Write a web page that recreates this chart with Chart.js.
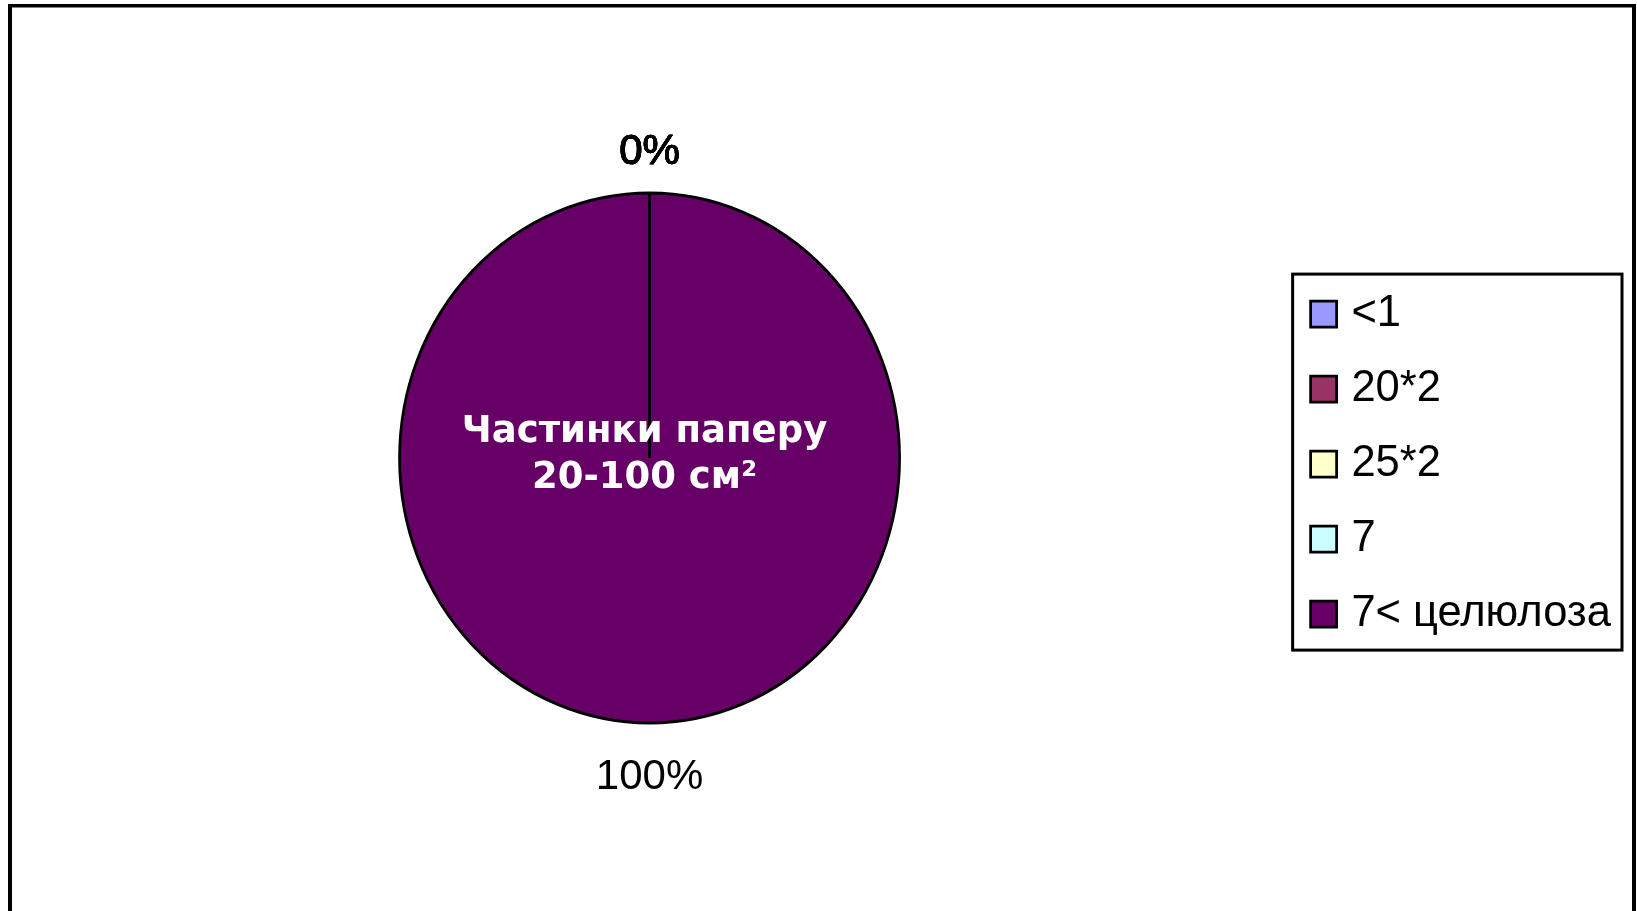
<!DOCTYPE html>
<html>
<head>
<meta charset="utf-8">
<script src="https://cdn.jsdelivr.net/npm/chart.js@4"></script>
<style>
  body { margin: 0; background: #fff; }
  .wrap { position: relative; width: 1637px; height: 911px; }
</style>
</head>
<body>
<div class="wrap"><canvas id="myChart"></canvas></div>
<script>
// chart data
const categories = ["<1", "20*2", "25*2", "7", "7< целюлоза"];
const shares = [0, 0, 0, 0, 100];
const sliceColors = ["#9999FF", "#993366", "#FFFFCC", "#CCFFFF", "#660066"];
const centerLines = ["Частинки паперу", "20-100 см²"];

const stretchY = 1.06; // the pie in the picture is a bit taller than wide
const legendFont = 43.5;
let ctx = document.getElementById("myChart");

// outer frame (left, top, right only)
const framePlugin = {
  id: "frame",
  beforeDraw(chart) {
    const c = chart.ctx;
    c.save();
    c.fillStyle = "#000";
    c.fillRect(8, 4, 4, 911);
    c.fillRect(8, 4, 1628, 3.5);
    c.fillRect(1632, 4, 4, 911);
    c.restore();
  },
};

// squeeze the circle into an ellipse
const ellipsePlugin = {
  id: "ellipse",
  beforeDatasetsDraw(chart) {
    const arc = chart.getDatasetMeta(0).data[0];
    const c = chart.ctx;
    c.save();
    c.translate(arc.x, arc.y);
    c.scale(1, stretchY);
    c.translate(-arc.x, -arc.y);
  },
  afterDatasetsDraw(chart) {
    chart.ctx.restore();
  },
};

// percent labels outside, title text inside, legend box
const textPlugin = {
  id: "texts",
  afterDraw(chart) {
    const c = chart.ctx;
    const meta = chart.getDatasetMeta(0);
    const total = shares.reduce((a, b) => a + b, 0);
    c.save();
    c.font = "42px 'Liberation Sans', Arial, sans-serif";
    c.fillStyle = "#000";
    c.strokeStyle = "#000";
    c.lineWidth = 0.7;
    c.textAlign = "center";
    c.textBaseline = "middle";
    meta.data.forEach((arc, i) => {
      const mid = (arc.startAngle + arc.endAngle) / 2;
      const off = Math.sin(mid) > 0 ? 54 : 41;
      const x = arc.x + Math.cos(mid) * (arc.outerRadius + off);
      const y = arc.y + Math.sin(mid) * (arc.outerRadius * stretchY + off);
      const txt = Math.round((shares[i] / total) * 100) + "%";
      c.fillText(txt, x, y);
      if (shares[i] === 0) c.strokeText(txt, x, y);
    });

    const arc0 = meta.data[0];
    c.fillStyle = "#fff";
    c.font = "bold 37px 'DejaVu Sans', Verdana, sans-serif";
    c.fillText(centerLines[0], arc0.x - 5, arc0.y - 26);
    c.fillText(centerLines[1], arc0.x - 5, arc0.y + 20);

    const boxes = chart.legend.legendHitBoxes;
    if (boxes && boxes.length) {
      const left = boxes[0].left - 7 - 18;
      const top = boxes[0].top + legendFont / 2 - 40;
      const right = Math.max(...boxes.map((b) => b.left + b.width)) + 11;
      const last = boxes[boxes.length - 1];
      const bottom = last.top + legendFont / 2 + 36;
      c.strokeStyle = "#000";
      c.lineWidth = 3;
      c.strokeRect(left, top, right - left, bottom - top);
    }
    c.restore();
  },
};

var myChart = new Chart(ctx, {
  type: "pie",
  data: {
    labels: categories,
    datasets: [
      {
        data: shares,
        backgroundColor: sliceColors,
        borderColor: "#000",
        borderWidth: 2.8,
        radius: 250,
      },
    ],
  },
  options: {
    responsive: true,
    maintainAspectRatio: false,
    animation: false,
    events: [],
    rotation: 0,
    layout: { padding: { left: 13, right: 16, top: 100, bottom: 95 } },
    plugins: {
      tooltip: { enabled: false },
      legend: {
        position: "right",
        title: { display: true, text: "", font: { size: 1 }, padding: { top: 11, bottom: 0 } },
        labels: {
          color: "#000",
          font: { family: "'Liberation Sans', Arial, sans-serif", size: legendFont },
          usePointStyle: true,
          pointStyle: "rect",
          boxWidth: 12,
          boxHeight: 26,
          padding: 75 - legendFont,
        },
      },
    },
  },
  plugins: [framePlugin, ellipsePlugin, textPlugin],
});
</script>
</body>
</html>
